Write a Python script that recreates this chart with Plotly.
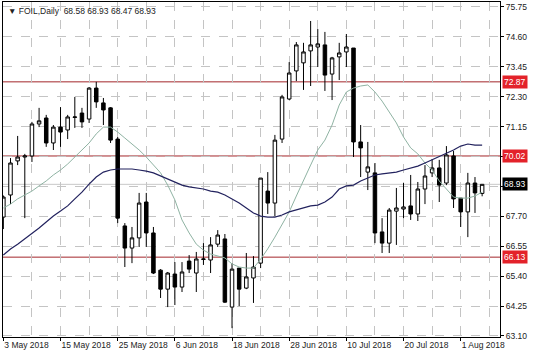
import plotly.graph_objects as go
import pandas as pd

# ---- data ----
dates = pd.bdate_range("2018-05-03", periods=68)

opens = [67.67, 68.52, 69.83, 69.98, 70.02, 71.25, 71.48, 70.52, 71.13, 71.02,
         71.50, 71.67, 71.44, 72.63, 72.06, 71.87, 70.67, 67.33, 66.48, 66.87,
         68.25, 67.06, 65.63, 64.90, 65.48, 64.98, 65.98, 65.52, 66.04, 66.02,
         66.63, 66.83, 64.21, 65.71, 64.94, 65.33, 65.90, 68.67, 68.21, 70.67,
         72.21, 73.29, 73.60, 74.06, 74.21, 74.29, 73.17, 73.83, 74.02, 74.17,
         70.56, 69.40, 69.37, 67.10, 66.67, 67.90, 67.98, 68.10, 67.79, 68.75,
         69.37, 69.56, 68.98, 70.02, 68.40, 67.87, 68.98, 68.58]
highs = [68.50, 69.94, 70.79, 70.10, 71.33, 71.87, 71.60, 71.21, 71.90, 71.60,
         72.29, 71.87, 72.67, 72.87, 72.25, 71.90, 70.75, 67.44, 67.29, 68.60,
         68.60, 67.29, 65.67, 65.56, 65.94, 65.94, 66.21, 66.33, 66.67, 66.90,
         67.17, 67.02, 65.90, 65.71, 66.29, 66.17, 69.17, 69.40, 70.83, 72.37,
         73.63, 74.40, 74.37, 75.21, 74.90, 74.79, 73.83, 74.37, 74.71, 74.17,
         71.21, 70.56, 69.75, 67.63, 68.02, 68.79, 68.98, 69.29, 69.02, 69.67,
         69.90, 69.87, 70.40, 70.21, 68.40, 69.37, 69.21, 68.93]
lows = [67.21, 68.17, 69.67, 67.63, 69.79, 71.13, 70.37, 70.25, 70.37, 70.67,
        71.10, 71.10, 71.29, 71.87, 71.21, 70.52, 67.44, 65.75, 65.90, 66.52,
        66.52, 65.48, 64.56, 64.21, 64.29, 64.79, 65.52, 64.79, 65.83, 65.52,
        66.52, 64.37, 63.40, 64.25, 64.90, 64.37, 65.71, 67.79, 67.71, 70.52,
        72.17, 72.90, 72.56, 72.71, 73.44, 72.52, 72.17, 72.94, 73.44, 69.98,
        69.21, 68.71, 66.67, 66.29, 66.29, 66.60, 67.63, 67.56, 67.52, 68.17,
        69.21, 68.25, 68.90, 68.02, 67.29, 66.90, 67.83, 68.47]
closes = [68.44, 69.75, 69.98, 70.02, 71.25, 71.37, 70.52, 71.13, 70.94, 71.52,
          71.52, 71.33, 72.63, 72.10, 71.79, 70.63, 67.63, 66.48, 66.87, 68.21,
          67.06, 65.52, 64.90, 65.52, 64.98, 65.56, 65.67, 66.06, 66.06, 66.60,
          66.98, 64.40, 65.67, 64.90, 65.37, 65.75, 69.17, 68.21, 70.63, 72.29,
          73.21, 74.29, 74.02, 74.29, 74.33, 73.13, 73.79, 73.98, 74.21, 70.56,
          70.33, 69.60, 67.06, 66.67, 67.94, 68.02, 68.06, 67.79, 68.75, 69.25,
          69.56, 68.90, 70.06, 68.37, 67.87, 68.98, 68.60, 68.93]

ma_fast = [68.02, 68.17, 68.37, 68.52, 68.67, 68.87, 69.06, 69.29, 69.48, 69.71,
           69.98, 70.21, 70.52, 70.87, 71.13, 71.13, 70.94, 70.71, 70.48, 70.25,
           69.98, 69.67, 69.37, 68.90, 68.33, 67.56, 67.06, 66.63, 66.40, 66.25,
           66.17, 66.10, 65.87, 65.75, 65.71, 65.71, 66.05, 66.45, 66.90, 67.40,
           67.87, 68.48, 69.10, 69.67, 70.25, 70.63, 71.21, 71.98, 72.48, 72.63,
           72.71, 72.75, 72.48, 72.13, 71.71, 71.29, 70.75, 70.33, 70.10, 69.75,
           69.48, 69.06, 68.75, 68.44, 68.40, 68.40, 68.48, 68.63]
ma_slow = [66.21, 66.44, 66.63, 66.83, 67.06, 67.25, 67.48, 67.71, 67.90, 68.10,
           68.37, 68.63, 68.94, 69.21, 69.40, 69.48, 69.52, 69.52, 69.52, 69.48,
           69.44, 69.37, 69.25, 69.13, 69.02, 68.90, 68.83, 68.79, 68.75, 68.67,
           68.63, 68.52, 68.37, 68.21, 68.02, 67.83, 67.71, 67.67, 67.67, 67.75,
           67.87, 67.94, 68.02, 68.10, 68.13, 68.25, 68.44, 68.75, 68.87, 68.90,
           69.06, 69.17, 69.29, 69.33, 69.37, 69.40, 69.48, 69.56, 69.63, 69.75,
           69.87, 70.02, 70.13, 70.25, 70.40, 70.48, 70.44, 70.44]

levels = [72.87, 70.02, 66.13]
current_price = 68.93
y_ticks = [75.75, 74.60, 73.45, 72.30, 71.15, 70.00, 68.85, 67.70, 66.55, 65.40, 64.25, 63.10]
y_tick_text = ["75.75", "74.60", "73.45", "72.30", "71.15", "", "", "67.70", "66.55", "65.40", "64.25", "63.10"]
x_tick_dates = ["2018-05-03", "2018-05-15", "2018-05-25", "2018-06-06", "2018-06-18",
                "2018-06-28", "2018-07-10", "2018-07-20", "2018-08-01"]
x_tick_labels = ["3 May 2018", "15 May 2018", "25 May 2018", "6 Jun 2018", "18 Jun 2018",
                 "28 Jun 2018", "10 Jul 2018", "20 Jul 2018", "1 Aug 2018"]
title_text = "\u25bc FOIL,Daily  68.58 68.93 68.47 68.93"

# ---- figure ----
idx = list(range(len(dates)))
date_pos = {d.strftime("%Y-%m-%d"): i for i, d in enumerate(dates)}
tick_pos = [date_pos[d] for d in x_tick_dates]
minor_pos = [p + 4 for p in tick_pos]

FONT = "Liberation Sans, Arial, sans-serif"
GRID = "#c4c4c4"

fig = go.Figure()

for lv in levels:
    fig.add_hline(y=lv, line=dict(color="#a3262a", width=1), layer="below")
fig.add_hline(y=current_price, line=dict(color="#c8c8c8", width=1), layer="below")

fig.add_trace(go.Scatter(x=idx, y=ma_fast, mode="lines",
                         line=dict(color="#8fb3a3", width=1), hoverinfo="skip"))
fig.add_trace(go.Scatter(x=idx, y=ma_slow, mode="lines",
                         line=dict(color="#22225e", width=1.2), hoverinfo="skip"))

fig.add_trace(go.Candlestick(
    x=idx, open=opens, high=highs, low=lows, close=closes,
    increasing=dict(line=dict(color="black", width=1), fillcolor="white"),
    decreasing=dict(line=dict(color="black", width=1), fillcolor="black"),
    whiskerwidth=0,
))

fig.update_layout(
    width=536, height=357,
    margin=dict(l=3, r=36, t=2, b=20),
    paper_bgcolor="white", plot_bgcolor="white",
    showlegend=False,
    font=dict(family=FONT, size=8, color="#222222"),
    xaxis=dict(
        range=[-0.05, 69.5], rangeslider=dict(visible=False),
        tickvals=tick_pos, ticktext=x_tick_labels, tickangle=0,
        ticks="outside", ticklen=3, tickcolor="black",
        ticklabelposition="outside right",
        showgrid=True, gridcolor=GRID, griddash="dash", gridwidth=1,
        minor=dict(tickvals=minor_pos, showgrid=True, gridcolor=GRID,
                   griddash="dash", gridwidth=1, ticks=""),
        showline=True, linecolor="black", linewidth=1, mirror=True,
        zeroline=False, tickfont=dict(size=8.5),
    ),
    yaxis=dict(
        side="right", range=[63.06, 75.94],
        tickvals=y_ticks, ticktext=y_tick_text,
        ticks="outside", ticklen=3, tickcolor="black",
        showgrid=True, gridcolor=GRID, griddash="dash", gridwidth=1,
        showline=True, linecolor="black", linewidth=1, mirror=True,
        zeroline=False, tickfont=dict(size=8.5),
    ),
)

for lv in levels:
    fig.add_annotation(xref="paper", x=1, xanchor="left", xshift=2, y=lv, yref="y",
                       text=f"{lv:.2f}", showarrow=False, bgcolor="#e3222a",
                       font=dict(color="white", size=8.5, family=FONT), borderpad=1)
fig.add_annotation(xref="paper", x=1, xanchor="left", xshift=2, y=current_price, yref="y",
                   text=f"{current_price:.2f}", showarrow=False, bgcolor="black",
                   font=dict(color="white", size=8.5, family=FONT), borderpad=1)

fig.add_annotation(xref="paper", yref="paper", x=0, y=1, xanchor="left", yanchor="top",
                   xshift=3, yshift=-2, text=title_text, showarrow=False,
                   font=dict(size=8.5, color="#222222", family=FONT))

fig.write_html("out.html")
